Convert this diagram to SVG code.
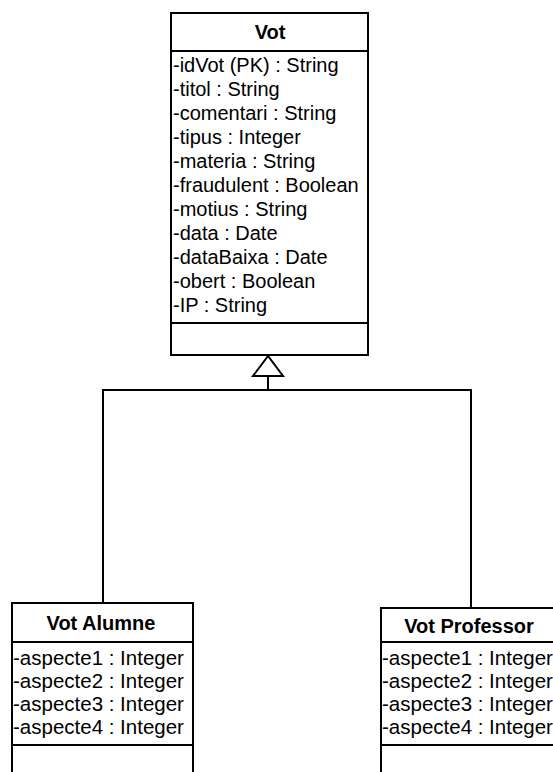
<svg xmlns="http://www.w3.org/2000/svg" width="553" height="772" viewBox="0 0 553 772">
<style>
  .box { fill: #fff; stroke: #000; stroke-width: 2; }
  .ln { stroke: #000; stroke-width: 2; fill: none; }
  .title { font-family: "Liberation Sans", Arial, sans-serif; font-weight: bold; font-size: 20px; fill: #000; text-anchor: middle; }
  .attr { font-family: "Liberation Sans", Arial, sans-serif; font-size: 20px; fill: #000; }
  .sattr { font-family: "Liberation Sans", Arial, sans-serif; font-size: 20.5px; fill: #000; }
</style>
<rect width="553" height="772" fill="#fff"/>
<g id="connectors">
  <polygon points="268,356 253,376 283,376" fill="#fff" stroke="#000" stroke-width="2"/>
  <polyline class="ln" points="268,376 268,390"/>
  <polyline class="ln" points="103,603 103,390 471,390 471,608"/>
</g>
<g id="vot">
  <rect class="box" x="171" y="13" width="197" height="342"/>
  <line class="ln" x1="171" y1="51" x2="368" y2="51"/>
  <line class="ln" x1="171" y1="323" x2="368" y2="323"/>
  <text class="title" x="270" y="39">Vot</text>
  <text class="attr" x="173" y="72">-idVot (PK) : String</text>
  <text class="attr" x="173" y="96">-titol : String</text>
  <text class="attr" x="173" y="120">-comentari : String</text>
  <text class="attr" x="173" y="144">-tipus : Integer</text>
  <text class="attr" x="173" y="168">-materia : String</text>
  <text class="attr" x="173" y="192">-fraudulent : Boolean</text>
  <text class="attr" x="173" y="216">-motius : String</text>
  <text class="attr" x="173" y="240">-data : Date</text>
  <text class="attr" x="173" y="264">-dataBaixa : Date</text>
  <text class="attr" x="173" y="288">-obert : Boolean</text>
  <text class="attr" x="173" y="312">-IP : String</text>
</g>
<g id="vot-alumne">
  <rect class="box" x="12" y="603" width="181" height="180"/>
  <line class="ln" x1="12" y1="642" x2="193" y2="642"/>
  <line class="ln" x1="12" y1="745" x2="193" y2="745"/>
  <text class="title" x="101" y="630">Vot Alumne</text>
  <text class="sattr" x="13" y="665">-aspecte1 : Integer</text>
  <text class="sattr" x="13" y="688">-aspecte2 : Integer</text>
  <text class="sattr" x="13" y="711">-aspecte3 : Integer</text>
  <text class="sattr" x="13" y="734">-aspecte4 : Integer</text>
</g>
<g id="vot-professor">
  <rect class="box" x="381" y="608" width="185" height="180"/>
  <line class="ln" x1="381" y1="642" x2="566" y2="642"/>
  <line class="ln" x1="381" y1="745" x2="566" y2="745"/>
  <text class="title" x="469" y="633">Vot Professor</text>
  <text class="sattr" x="382" y="665">-aspecte1 : Integer</text>
  <text class="sattr" x="382" y="688">-aspecte2 : Integer</text>
  <text class="sattr" x="382" y="711">-aspecte3 : Integer</text>
  <text class="sattr" x="382" y="734">-aspecte4 : Integer</text>
</g>
</svg>
